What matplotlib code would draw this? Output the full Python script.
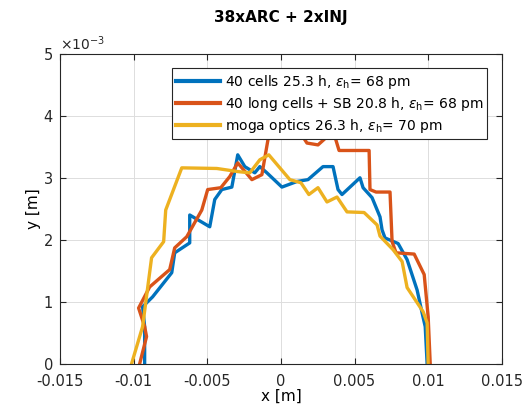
import matplotlib
matplotlib.use("Agg")
import matplotlib.pyplot as plt

# dynamic aperture curves, x and y in units of 1e-3 m
x_cells = [-9.25, -9.25, -9.39, -8.71, -7.41, -7.21, -6.19, -6.19, -4.83, -4.49, -4.01, -3.33,
           -2.93, -2.45, -1.77, -1.43, -0.95, 0.07, 1.09, 1.84, 2.86, 3.54, 3.88, 4.15,
           5.37, 5.58, 6.19, 6.73, 6.87, 7.07, 7.96, 8.57, 9.25, 9.59, 9.80, 9.93]
y_cells = [0.0, 0.60, 0.92, 1.08, 1.47, 1.79, 1.95, 2.40, 2.21, 2.65, 2.81, 2.85,
           3.37, 3.18, 3.08, 3.18, 3.08, 2.85, 2.94, 2.97, 3.18, 3.18, 2.81, 2.73,
           3.00, 2.84, 2.68, 2.37, 2.16, 2.03, 1.94, 1.68, 1.19, 0.82, 0.60, 0.0]

x_long = [-9.59, -9.12, -9.25, -9.66, -8.91, -7.55, -7.21, -6.39, -5.37, -4.97, -4.08, -3.47,
          -2.93, -1.97, -1.29, -0.88, -0.61, 0.27, 1.16, 1.50, 1.77, 2.52, 3.13, 3.67,
          3.95, 5.99, 6.05, 6.46, 7.41, 7.55, 7.82, 9.05, 9.73, 10.0, 10.14]
y_long = [0.0, 0.44, 0.60, 0.90, 1.24, 1.52, 1.87, 2.05, 2.48, 2.81, 2.84, 3.02,
          3.24, 2.97, 3.05, 3.61, 3.94, 4.10, 3.85, 3.66, 3.56, 3.53, 3.66, 3.66,
          3.44, 3.44, 2.81, 2.77, 2.77, 1.97, 1.79, 1.77, 1.44, 0.76, 0.0]

x_moga = [-10.14, -9.39, -8.78, -7.96, -7.82, -6.73, -4.35, -2.93, -2.11, -1.43, -0.82, 0.61,
          1.36, 1.90, 2.52, 3.13, 3.81, 4.49, 5.65, 6.53, 6.73, 7.62, 8.23, 8.57,
          9.66, 9.93, 10.0]
y_moga = [0.0, 0.60, 1.71, 1.97, 2.48, 3.16, 3.15, 3.10, 3.08, 3.29, 3.37, 2.97,
          2.92, 2.73, 2.84, 2.61, 2.69, 2.45, 2.44, 2.24, 2.06, 1.84, 1.65, 1.23,
          0.84, 0.66, 0.0]

labels = [r'40 cells 25.3 h, $\epsilon_\mathrm{h}$= 68 pm',
          r'40 long cells + SB 20.8 h, $\epsilon_\mathrm{h}$= 68 pm',
          r'moga optics 26.3 h, $\epsilon_\mathrm{h}$= 70 pm']
colors = ['#0072BD', '#D95319', '#EDB120']

xticks = [-0.015, -0.01, -0.005, 0, 0.005, 0.01, 0.015]
xticklabels = ['-0.015', '-0.01', '-0.005', '0', '0.005', '0.01', '0.015']

plt.rcParams['axes.unicode_minus'] = False
fig = plt.figure(figsize=(5.26, 4.07), dpi=100)
ax = fig.add_axes([0.114, 0.106, 0.84, 0.762])

curves = [(x_cells, y_cells), (x_long, y_long), (x_moga, y_moga)]
for (xs, ys), lab, c in zip(curves, labels, colors):
    ax.plot([v * 1e-3 for v in xs], [v * 1e-3 for v in ys], color=c, lw=2.4, label=lab)

ax.set_xlim(-0.015, 0.015)
ax.set_ylim(0, 0.005)
ax.set_xticks(xticks)
ax.set_xticklabels(xticklabels)
ax.set_yticks([0, 0.001, 0.002, 0.003, 0.004, 0.005])
ax.ticklabel_format(style='sci', axis='y', scilimits=(0, 0), useMathText=True)
ax.yaxis.get_offset_text().set_fontsize(10)
ax.tick_params(direction='in', labelsize=10.5, length=4, colors='#262626', top=True, right=True)
ax.tick_params(axis='x', pad=7)
ax.tick_params(axis='y', pad=5)
ax.grid(True, color='#dddddd', lw=0.7)
for s in ax.spines.values():
    s.set_color('#262626')
    s.set_linewidth(0.8)

ax.set_xlabel('x [m]', fontsize=11, labelpad=0)
ax.set_ylabel('y [m]', fontsize=11, labelpad=1)
ax.set_title('38xARC + 2xINJ', fontsize=11, fontweight='bold', pad=23)

leg = ax.legend(loc='upper right', bbox_to_anchor=(0.983, 0.975), fontsize=10,
                handlelength=3.2, handletextpad=0.3, borderpad=0.3, labelspacing=0.3,
                fancybox=False, framealpha=1)
leg.get_frame().set_edgecolor('#262626')
leg.get_frame().set_linewidth(0.8)
for line in leg.get_lines():
    line.set_linewidth(3)

fig.savefig('out.png', dpi=100)
